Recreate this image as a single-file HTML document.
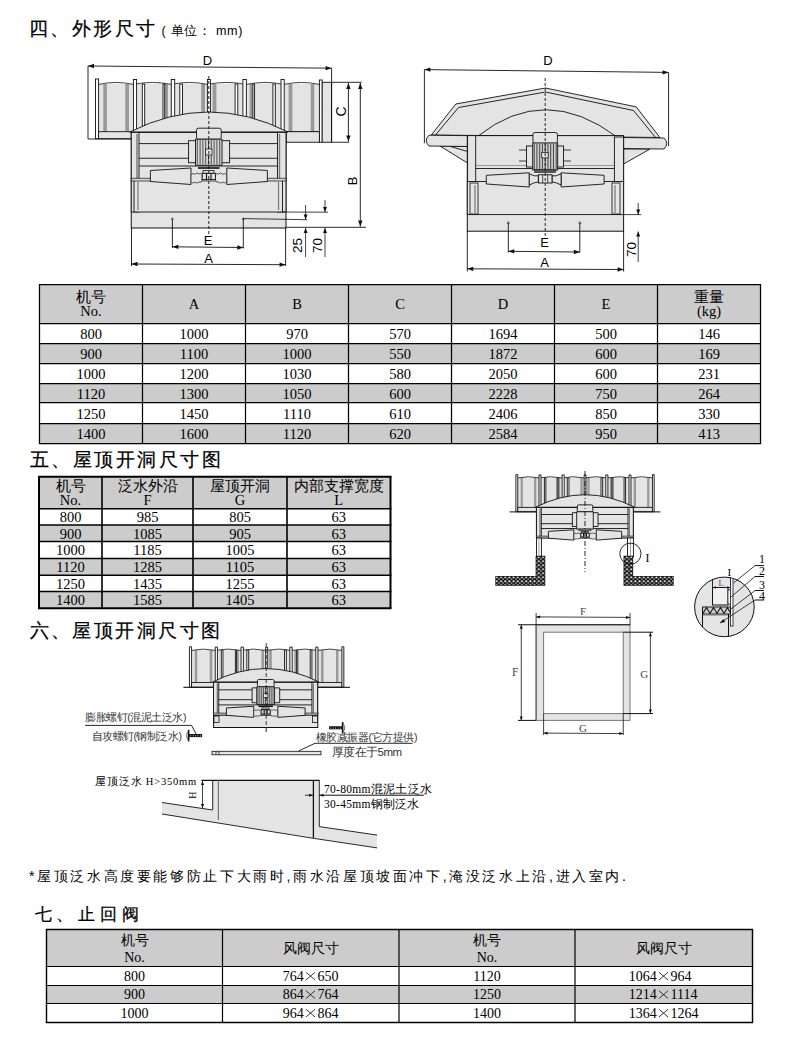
<!DOCTYPE html>
<html><head><meta charset="utf-8"><style>
html,body{margin:0;padding:0;background:#fff;width:800px;height:1043px;overflow:hidden}
svg{display:block}
.ns *{vector-effect:non-scaling-stroke}
</style></head><body>
<svg width="800" height="1043" viewBox="0 0 800 1043">
<text x="29" y="34.5" font-size="19" letter-spacing="2.45" stroke="#000" stroke-width="0.25" font-family="Liberation Sans, sans-serif">四、外形尺寸</text>
<text x="161.5" y="35" font-size="12.6" letter-spacing="0.7" font-family="Liberation Sans, sans-serif">( 单位： mm)</text>
<text x="30" y="466.3" font-size="19" letter-spacing="2.45" stroke="#000" stroke-width="0.25" font-family="Liberation Sans, sans-serif">五、屋顶开洞尺寸图</text>
<text x="29.5" y="637" font-size="19" letter-spacing="2.45" stroke="#000" stroke-width="0.25" font-family="Liberation Sans, sans-serif">六、屋顶开洞尺寸图</text>
<text x="34.5" y="920" font-size="17.2" letter-spacing="4.8" stroke="#000" stroke-width="0.25" font-family="Liberation Sans, sans-serif">七、止回阀</text>
<text x="29" y="880.5" font-size="14" letter-spacing="2.63" font-family="Liberation Sans, sans-serif">*屋顶泛水高度要能够防止下大雨时,雨水沿屋顶坡面冲下,淹没泛水上沿,进入室内.</text>
<rect x="39.5" y="284.5" width="721.0" height="39.0" fill="#cccccc"/>
<rect x="39.5" y="343.5" width="721.0" height="20.0" fill="#cccccc"/>
<rect x="39.5" y="383.5" width="721.0" height="19.0" fill="#cccccc"/>
<rect x="39.5" y="423.5" width="721.0" height="20.0" fill="#cccccc"/>
<line x1="38.875" y1="284.5" x2="761.125" y2="284.5" stroke="#000" stroke-width="1.25"/>
<line x1="38.875" y1="323.5" x2="761.125" y2="323.5" stroke="#000" stroke-width="1.25"/>
<line x1="38.875" y1="343.5" x2="761.125" y2="343.5" stroke="#000" stroke-width="1.25"/>
<line x1="38.875" y1="363.5" x2="761.125" y2="363.5" stroke="#000" stroke-width="1.25"/>
<line x1="38.875" y1="383.5" x2="761.125" y2="383.5" stroke="#000" stroke-width="1.25"/>
<line x1="38.875" y1="402.5" x2="761.125" y2="402.5" stroke="#000" stroke-width="1.25"/>
<line x1="38.875" y1="423.5" x2="761.125" y2="423.5" stroke="#000" stroke-width="1.25"/>
<line x1="38.875" y1="443.5" x2="761.125" y2="443.5" stroke="#000" stroke-width="1.25"/>
<line x1="39.5" y1="284.5" x2="39.5" y2="443.5" stroke="#000" stroke-width="1.25"/>
<line x1="142.5" y1="284.5" x2="142.5" y2="443.5" stroke="#000" stroke-width="1.25"/>
<line x1="245.5" y1="284.5" x2="245.5" y2="443.5" stroke="#000" stroke-width="1.25"/>
<line x1="348.5" y1="284.5" x2="348.5" y2="443.5" stroke="#000" stroke-width="1.25"/>
<line x1="451.5" y1="284.5" x2="451.5" y2="443.5" stroke="#000" stroke-width="1.25"/>
<line x1="554.5" y1="284.5" x2="554.5" y2="443.5" stroke="#000" stroke-width="1.25"/>
<line x1="657.5" y1="284.5" x2="657.5" y2="443.5" stroke="#000" stroke-width="1.25"/>
<line x1="760.5" y1="284.5" x2="760.5" y2="443.5" stroke="#000" stroke-width="1.25"/>
<text x="91.0" y="302.0" text-anchor="middle" font-size="14.5" font-family="Liberation Serif, serif">机号</text>
<text x="91.0" y="315.775" text-anchor="middle" font-size="14.5" font-family="Liberation Serif, serif">No.</text>
<text x="194.0" y="309.075" text-anchor="middle" font-size="14.5" font-family="Liberation Serif, serif">A</text>
<text x="297.0" y="309.075" text-anchor="middle" font-size="14.5" font-family="Liberation Serif, serif">B</text>
<text x="400.0" y="309.075" text-anchor="middle" font-size="14.5" font-family="Liberation Serif, serif">C</text>
<text x="503.0" y="309.075" text-anchor="middle" font-size="14.5" font-family="Liberation Serif, serif">D</text>
<text x="606.0" y="309.075" text-anchor="middle" font-size="14.5" font-family="Liberation Serif, serif">E</text>
<text x="709.0" y="302.0" text-anchor="middle" font-size="14.5" font-family="Liberation Serif, serif">重量</text>
<text x="709.0" y="315.775" text-anchor="middle" font-size="14.5" font-family="Liberation Serif, serif">(kg)</text>
<text x="91.0" y="339.43" text-anchor="middle" font-size="14.5" font-family="Liberation Serif, serif">800</text>
<text x="194.0" y="339.43" text-anchor="middle" font-size="14.5" font-family="Liberation Serif, serif">1000</text>
<text x="297.0" y="339.43" text-anchor="middle" font-size="14.5" font-family="Liberation Serif, serif">970</text>
<text x="400.0" y="339.43" text-anchor="middle" font-size="14.5" font-family="Liberation Serif, serif">570</text>
<text x="503.0" y="339.43" text-anchor="middle" font-size="14.5" font-family="Liberation Serif, serif">1694</text>
<text x="606.0" y="339.43" text-anchor="middle" font-size="14.5" font-family="Liberation Serif, serif">500</text>
<text x="709.0" y="339.43" text-anchor="middle" font-size="14.5" font-family="Liberation Serif, serif">146</text>
<text x="91.0" y="359.43" text-anchor="middle" font-size="14.5" font-family="Liberation Serif, serif">900</text>
<text x="194.0" y="359.43" text-anchor="middle" font-size="14.5" font-family="Liberation Serif, serif">1100</text>
<text x="297.0" y="359.43" text-anchor="middle" font-size="14.5" font-family="Liberation Serif, serif">1000</text>
<text x="400.0" y="359.43" text-anchor="middle" font-size="14.5" font-family="Liberation Serif, serif">550</text>
<text x="503.0" y="359.43" text-anchor="middle" font-size="14.5" font-family="Liberation Serif, serif">1872</text>
<text x="606.0" y="359.43" text-anchor="middle" font-size="14.5" font-family="Liberation Serif, serif">600</text>
<text x="709.0" y="359.43" text-anchor="middle" font-size="14.5" font-family="Liberation Serif, serif">169</text>
<text x="91.0" y="379.43" text-anchor="middle" font-size="14.5" font-family="Liberation Serif, serif">1000</text>
<text x="194.0" y="379.43" text-anchor="middle" font-size="14.5" font-family="Liberation Serif, serif">1200</text>
<text x="297.0" y="379.43" text-anchor="middle" font-size="14.5" font-family="Liberation Serif, serif">1030</text>
<text x="400.0" y="379.43" text-anchor="middle" font-size="14.5" font-family="Liberation Serif, serif">580</text>
<text x="503.0" y="379.43" text-anchor="middle" font-size="14.5" font-family="Liberation Serif, serif">2050</text>
<text x="606.0" y="379.43" text-anchor="middle" font-size="14.5" font-family="Liberation Serif, serif">600</text>
<text x="709.0" y="379.43" text-anchor="middle" font-size="14.5" font-family="Liberation Serif, serif">231</text>
<text x="91.0" y="398.93" text-anchor="middle" font-size="14.5" font-family="Liberation Serif, serif">1120</text>
<text x="194.0" y="398.93" text-anchor="middle" font-size="14.5" font-family="Liberation Serif, serif">1300</text>
<text x="297.0" y="398.93" text-anchor="middle" font-size="14.5" font-family="Liberation Serif, serif">1050</text>
<text x="400.0" y="398.93" text-anchor="middle" font-size="14.5" font-family="Liberation Serif, serif">600</text>
<text x="503.0" y="398.93" text-anchor="middle" font-size="14.5" font-family="Liberation Serif, serif">2228</text>
<text x="606.0" y="398.93" text-anchor="middle" font-size="14.5" font-family="Liberation Serif, serif">750</text>
<text x="709.0" y="398.93" text-anchor="middle" font-size="14.5" font-family="Liberation Serif, serif">264</text>
<text x="91.0" y="418.93" text-anchor="middle" font-size="14.5" font-family="Liberation Serif, serif">1250</text>
<text x="194.0" y="418.93" text-anchor="middle" font-size="14.5" font-family="Liberation Serif, serif">1450</text>
<text x="297.0" y="418.93" text-anchor="middle" font-size="14.5" font-family="Liberation Serif, serif">1110</text>
<text x="400.0" y="418.93" text-anchor="middle" font-size="14.5" font-family="Liberation Serif, serif">610</text>
<text x="503.0" y="418.93" text-anchor="middle" font-size="14.5" font-family="Liberation Serif, serif">2406</text>
<text x="606.0" y="418.93" text-anchor="middle" font-size="14.5" font-family="Liberation Serif, serif">850</text>
<text x="709.0" y="418.93" text-anchor="middle" font-size="14.5" font-family="Liberation Serif, serif">330</text>
<text x="91.0" y="439.43" text-anchor="middle" font-size="14.5" font-family="Liberation Serif, serif">1400</text>
<text x="194.0" y="439.43" text-anchor="middle" font-size="14.5" font-family="Liberation Serif, serif">1600</text>
<text x="297.0" y="439.43" text-anchor="middle" font-size="14.5" font-family="Liberation Serif, serif">1120</text>
<text x="400.0" y="439.43" text-anchor="middle" font-size="14.5" font-family="Liberation Serif, serif">620</text>
<text x="503.0" y="439.43" text-anchor="middle" font-size="14.5" font-family="Liberation Serif, serif">2584</text>
<text x="606.0" y="439.43" text-anchor="middle" font-size="14.5" font-family="Liberation Serif, serif">950</text>
<text x="709.0" y="439.43" text-anchor="middle" font-size="14.5" font-family="Liberation Serif, serif">413</text>
<rect x="39" y="476.7" width="351.5" height="32.10000000000002" fill="#cccccc"/>
<rect x="39" y="525" width="351.5" height="16.5" fill="#cccccc"/>
<rect x="39" y="558.5" width="351.5" height="16.799999999999955" fill="#cccccc"/>
<rect x="39" y="591.5" width="351.5" height="16.799999999999955" fill="#cccccc"/>
<line x1="38.0" y1="476.7" x2="391.5" y2="476.7" stroke="#000" stroke-width="2"/>
<line x1="38.0" y1="508.8" x2="391.5" y2="508.8" stroke="#000" stroke-width="1.6"/>
<line x1="38.0" y1="525" x2="391.5" y2="525" stroke="#000" stroke-width="1.6"/>
<line x1="38.0" y1="541.5" x2="391.5" y2="541.5" stroke="#000" stroke-width="1.6"/>
<line x1="38.0" y1="558.5" x2="391.5" y2="558.5" stroke="#000" stroke-width="1.6"/>
<line x1="38.0" y1="575.3" x2="391.5" y2="575.3" stroke="#000" stroke-width="1.6"/>
<line x1="38.0" y1="591.5" x2="391.5" y2="591.5" stroke="#000" stroke-width="1.6"/>
<line x1="38.0" y1="608.3" x2="391.5" y2="608.3" stroke="#000" stroke-width="2"/>
<line x1="39" y1="476.7" x2="39" y2="608.3" stroke="#000" stroke-width="2"/>
<line x1="102" y1="476.7" x2="102" y2="608.3" stroke="#000" stroke-width="1.6"/>
<line x1="193" y1="476.7" x2="193" y2="608.3" stroke="#000" stroke-width="1.6"/>
<line x1="287" y1="476.7" x2="287" y2="608.3" stroke="#000" stroke-width="1.6"/>
<line x1="390.5" y1="476.7" x2="390.5" y2="608.3" stroke="#000" stroke-width="2"/>
<text x="70.5" y="490.75" text-anchor="middle" font-size="14.5" font-family="Liberation Serif, serif">机号</text>
<text x="70.5" y="504.525" text-anchor="middle" font-size="14.5" font-family="Liberation Serif, serif">No.</text>
<text x="147.5" y="490.75" text-anchor="middle" font-size="14.5" font-family="Liberation Serif, serif">泛水外沿</text>
<text x="147.5" y="504.525" text-anchor="middle" font-size="14.5" font-family="Liberation Serif, serif">F</text>
<text x="240.0" y="490.75" text-anchor="middle" font-size="14.5" font-family="Liberation Serif, serif">屋顶开洞</text>
<text x="240.0" y="504.525" text-anchor="middle" font-size="14.5" font-family="Liberation Serif, serif">G</text>
<text x="338.75" y="490.75" text-anchor="middle" font-size="14.5" font-family="Liberation Serif, serif">内部支撑宽度</text>
<text x="338.75" y="504.525" text-anchor="middle" font-size="14.5" font-family="Liberation Serif, serif">L</text>
<text x="70.5" y="522.3299999999999" text-anchor="middle" font-size="14.5" font-family="Liberation Serif, serif">800</text>
<text x="147.5" y="522.3299999999999" text-anchor="middle" font-size="14.5" font-family="Liberation Serif, serif">985</text>
<text x="240.0" y="522.3299999999999" text-anchor="middle" font-size="14.5" font-family="Liberation Serif, serif">805</text>
<text x="338.75" y="522.3299999999999" text-anchor="middle" font-size="14.5" font-family="Liberation Serif, serif">63</text>
<text x="70.5" y="538.68" text-anchor="middle" font-size="14.5" font-family="Liberation Serif, serif">900</text>
<text x="147.5" y="538.68" text-anchor="middle" font-size="14.5" font-family="Liberation Serif, serif">1085</text>
<text x="240.0" y="538.68" text-anchor="middle" font-size="14.5" font-family="Liberation Serif, serif">905</text>
<text x="338.75" y="538.68" text-anchor="middle" font-size="14.5" font-family="Liberation Serif, serif">63</text>
<text x="70.5" y="555.43" text-anchor="middle" font-size="14.5" font-family="Liberation Serif, serif">1000</text>
<text x="147.5" y="555.43" text-anchor="middle" font-size="14.5" font-family="Liberation Serif, serif">1185</text>
<text x="240.0" y="555.43" text-anchor="middle" font-size="14.5" font-family="Liberation Serif, serif">1005</text>
<text x="338.75" y="555.43" text-anchor="middle" font-size="14.5" font-family="Liberation Serif, serif">63</text>
<text x="70.5" y="572.3299999999999" text-anchor="middle" font-size="14.5" font-family="Liberation Serif, serif">1120</text>
<text x="147.5" y="572.3299999999999" text-anchor="middle" font-size="14.5" font-family="Liberation Serif, serif">1285</text>
<text x="240.0" y="572.3299999999999" text-anchor="middle" font-size="14.5" font-family="Liberation Serif, serif">1105</text>
<text x="338.75" y="572.3299999999999" text-anchor="middle" font-size="14.5" font-family="Liberation Serif, serif">63</text>
<text x="70.5" y="588.8299999999999" text-anchor="middle" font-size="14.5" font-family="Liberation Serif, serif">1250</text>
<text x="147.5" y="588.8299999999999" text-anchor="middle" font-size="14.5" font-family="Liberation Serif, serif">1435</text>
<text x="240.0" y="588.8299999999999" text-anchor="middle" font-size="14.5" font-family="Liberation Serif, serif">1255</text>
<text x="338.75" y="588.8299999999999" text-anchor="middle" font-size="14.5" font-family="Liberation Serif, serif">63</text>
<text x="70.5" y="605.3299999999999" text-anchor="middle" font-size="14.5" font-family="Liberation Serif, serif">1400</text>
<text x="147.5" y="605.3299999999999" text-anchor="middle" font-size="14.5" font-family="Liberation Serif, serif">1585</text>
<text x="240.0" y="605.3299999999999" text-anchor="middle" font-size="14.5" font-family="Liberation Serif, serif">1405</text>
<text x="338.75" y="605.3299999999999" text-anchor="middle" font-size="14.5" font-family="Liberation Serif, serif">63</text>
<rect x="46.5" y="929.5" width="706.0" height="37.0" fill="#cccccc"/>
<rect x="46.5" y="985.5" width="706.0" height="18.0" fill="#cccccc"/>
<line x1="45.8" y1="929.5" x2="753.2" y2="929.5" stroke="#000" stroke-width="1.4"/>
<line x1="45.8" y1="966.5" x2="753.2" y2="966.5" stroke="#000" stroke-width="1.2"/>
<line x1="45.8" y1="985.5" x2="753.2" y2="985.5" stroke="#000" stroke-width="1.2"/>
<line x1="45.8" y1="1003.5" x2="753.2" y2="1003.5" stroke="#000" stroke-width="1.2"/>
<line x1="45.8" y1="1022.5" x2="753.2" y2="1022.5" stroke="#000" stroke-width="1.4"/>
<line x1="46.5" y1="929.5" x2="46.5" y2="1022.5" stroke="#000" stroke-width="1.4"/>
<line x1="222.5" y1="929.5" x2="222.5" y2="1022.5" stroke="#000" stroke-width="1.2"/>
<line x1="399" y1="929.5" x2="399" y2="1022.5" stroke="#000" stroke-width="1.2"/>
<line x1="575" y1="929.5" x2="575" y2="1022.5" stroke="#000" stroke-width="1.2"/>
<line x1="752.5" y1="929.5" x2="752.5" y2="1022.5" stroke="#000" stroke-width="1.4"/>
<text x="134.5" y="945.0" text-anchor="middle" font-size="14" font-family="Liberation Serif, serif">机号</text>
<text x="134.5" y="961.8" text-anchor="middle" font-size="14" font-family="Liberation Serif, serif">No.</text>
<text x="310.75" y="952.9" text-anchor="middle" font-size="14" font-family="Liberation Serif, serif">风阀尺寸</text>
<text x="487.0" y="945.0" text-anchor="middle" font-size="14" font-family="Liberation Serif, serif">机号</text>
<text x="487.0" y="961.8" text-anchor="middle" font-size="14" font-family="Liberation Serif, serif">No.</text>
<text x="663.75" y="952.9" text-anchor="middle" font-size="14" font-family="Liberation Serif, serif">风阀尺寸</text>
<text x="134.5" y="980.76" text-anchor="middle" font-size="14" font-family="Liberation Serif, serif">800</text>
<text x="303.75" y="980.76" text-anchor="end" font-size="14" font-family="Liberation Serif, serif">764</text>
<text x="317.45" y="980.76" text-anchor="start" font-size="14" font-family="Liberation Serif, serif">650</text>
<path d="M305.9,972.24 L315.1,980.04 M305.9,980.04 L315.1,972.24" stroke="#222" stroke-width="0.9" fill="none"/>
<text x="487.0" y="980.76" text-anchor="middle" font-size="14" font-family="Liberation Serif, serif">1120</text>
<text x="656.75" y="980.76" text-anchor="end" font-size="14" font-family="Liberation Serif, serif">1064</text>
<text x="670.45" y="980.76" text-anchor="start" font-size="14" font-family="Liberation Serif, serif">964</text>
<path d="M658.9,972.24 L668.1,980.04 M658.9,980.04 L668.1,972.24" stroke="#222" stroke-width="0.9" fill="none"/>
<text x="134.5" y="999.26" text-anchor="middle" font-size="14" font-family="Liberation Serif, serif">900</text>
<text x="303.75" y="999.26" text-anchor="end" font-size="14" font-family="Liberation Serif, serif">864</text>
<text x="317.45" y="999.26" text-anchor="start" font-size="14" font-family="Liberation Serif, serif">764</text>
<path d="M305.9,990.74 L315.1,998.54 M305.9,998.54 L315.1,990.74" stroke="#222" stroke-width="0.9" fill="none"/>
<text x="487.0" y="999.26" text-anchor="middle" font-size="14" font-family="Liberation Serif, serif">1250</text>
<text x="656.75" y="999.26" text-anchor="end" font-size="14" font-family="Liberation Serif, serif">1214</text>
<text x="670.45" y="999.26" text-anchor="start" font-size="14" font-family="Liberation Serif, serif">1114</text>
<path d="M658.9,990.74 L668.1,998.54 M658.9,998.54 L668.1,990.74" stroke="#222" stroke-width="0.9" fill="none"/>
<text x="134.5" y="1017.76" text-anchor="middle" font-size="14" font-family="Liberation Serif, serif">1000</text>
<text x="303.75" y="1017.76" text-anchor="end" font-size="14" font-family="Liberation Serif, serif">964</text>
<text x="317.45" y="1017.76" text-anchor="start" font-size="14" font-family="Liberation Serif, serif">864</text>
<path d="M305.9,1009.24 L315.1,1017.04 M305.9,1017.04 L315.1,1009.24" stroke="#222" stroke-width="0.9" fill="none"/>
<text x="487.0" y="1017.76" text-anchor="middle" font-size="14" font-family="Liberation Serif, serif">1400</text>
<text x="656.75" y="1017.76" text-anchor="end" font-size="14" font-family="Liberation Serif, serif">1364</text>
<text x="670.45" y="1017.76" text-anchor="start" font-size="14" font-family="Liberation Serif, serif">1264</text>
<path d="M658.9,1009.24 L668.1,1017.04 M658.9,1017.04 L668.1,1009.24" stroke="#222" stroke-width="0.9" fill="none"/>
<defs><pattern id="speck" width="4.2" height="4" patternUnits="userSpaceOnUse"><rect width="4.2" height="4" fill="#1c1c1c"/><circle cx="1.2" cy="1.2" r="1.0" fill="#f4f4f4"/><circle cx="3.3" cy="3.1" r="0.8" fill="#bbb"/></pattern></defs>
<rect x="98.6" y="84" width="223.4" height="47.69999999999999" fill="#e4e4e4"/>
<rect x="103.3" y="84" width="3.6000000000000085" height="47.7" fill="#9a9a9a"/>
<rect x="310.70000000000005" y="84" width="3.6000000000000085" height="47.7" fill="#9a9a9a"/>
<rect x="125.2" y="84" width="3.799999999999997" height="47.7" fill="#9a9a9a"/>
<rect x="288.6" y="84" width="3.799999999999997" height="47.7" fill="#9a9a9a"/>
<rect x="164.7" y="84" width="3.3000000000000114" height="47.7" fill="#9a9a9a"/>
<rect x="249.60000000000002" y="84" width="3.3000000000000114" height="47.7" fill="#9a9a9a"/>
<rect x="201.2" y="84" width="3.8000000000000114" height="47.7" fill="#9a9a9a"/>
<rect x="212.60000000000002" y="84" width="3.8000000000000114" height="47.7" fill="#9a9a9a"/>
<path d="M98.6,84.4 Q116.0,80.5 133.4,84.4 Q152.325,80.5 171.25,84.4 Q189.375,80.5 207.5,84.4 Q226.85,80.5 246.2,84.4 Q265.0,80.5 283.8,84.4 Q301.6,80.5 319.4,84.4 " fill="none" stroke="#111" stroke-width="0.8"/>
<rect x="133.4" y="79.5" width="3.1999999999999886" height="52.19999999999999" fill="#fff" stroke="#111" stroke-width="0.9"/>
<rect x="281.0" y="79.5" width="3.2000000000000455" height="52.19999999999999" fill="#fff" stroke="#111" stroke-width="0.9"/>
<rect x="142.3" y="84" width="2.3999999999999773" height="47.69999999999999" fill="#fff" stroke="#111" stroke-width="0.9"/>
<rect x="272.90000000000003" y="84" width="2.3999999999999773" height="47.69999999999999" fill="#fff" stroke="#111" stroke-width="0.9"/>
<rect x="163" y="84" width="1.6999999999999886" height="47.69999999999999" fill="#fff" stroke="#111" stroke-width="0.9"/>
<rect x="252.90000000000003" y="84" width="1.6999999999999886" height="47.69999999999999" fill="#fff" stroke="#111" stroke-width="0.9"/>
<rect x="171.25" y="79.5" width="3.4499999999999886" height="52.19999999999999" fill="#fff" stroke="#111" stroke-width="0.9"/>
<rect x="242.90000000000003" y="79.5" width="3.4499999999999886" height="52.19999999999999" fill="#fff" stroke="#111" stroke-width="0.9"/>
<rect x="179.8" y="84" width="2.6999999999999886" height="47.69999999999999" fill="#fff" stroke="#111" stroke-width="0.9"/>
<rect x="235.10000000000002" y="84" width="2.6999999999999886" height="47.69999999999999" fill="#fff" stroke="#111" stroke-width="0.9"/>
<rect x="207.4" y="79.5" width="3" height="52" fill="#fff" stroke="#111" stroke-width="0.9"/>
<rect x="95.5" y="79" width="3.0999999999999943" height="59.75" fill="#fff" stroke="#111" stroke-width="0.9" />
<rect x="98.6" y="131.7" width="220.79999999999998" height="7.050000000000011" fill="#e4e4e4" stroke="#111" stroke-width="0.9" />
<rect x="319.4" y="80" width="2.8000000000000114" height="62.25" fill="#fff" stroke="#111" stroke-width="0.9" />
<rect x="322.2" y="82.3" width="9.400000000000034" height="59.95" fill="#e4e4e4" stroke="#111" stroke-width="0.9" />
<rect x="286" y="131.7" width="33.39999999999998" height="10.550000000000011" fill="#e4e4e4" stroke="#111" stroke-width="0.9" />
<path d="M129.8,132 Q208.8,92 288,132 Z" fill="#e4e4e4" stroke="#111" stroke-width="0.9"/>
<rect x="131.25" y="132.4" width="154.75" height="95.6" fill="#e4e4e4" stroke="#111" stroke-width="1" />
<rect x="131.25" y="132.4" width="7.75" height="79.6" fill="#e4e4e4" stroke="#111" stroke-width="0.9" />
<rect x="277.5" y="132.4" width="8.5" height="79.6" fill="#e4e4e4" stroke="#111" stroke-width="0.9" />
<line x1="137" y1="134" x2="137" y2="210" stroke="#777" stroke-width="1.4" />
<line x1="279.5" y1="134" x2="279.5" y2="210" stroke="#777" stroke-width="1.4" />
<line x1="139" y1="143.6" x2="277.5" y2="143.6" stroke="#111" stroke-width="0.9" />
<line x1="139" y1="158.25" x2="277.5" y2="158.25" stroke="#111" stroke-width="0.9" />
<line x1="139" y1="166" x2="277.5" y2="166" stroke="#111" stroke-width="0.9" />
<rect x="134" y="180" width="148.5" height="32" fill="#e4e4e4" stroke="#111" stroke-width="0.9" />
<line x1="138" y1="182" x2="138" y2="210" stroke="#777" stroke-width="1.2" />
<line x1="278.5" y1="182" x2="278.5" y2="210" stroke="#777" stroke-width="1.2" />
<rect x="131.25" y="178.2" width="154.75" height="2.8000000000000114" fill="#d8d8d8" stroke="#111" stroke-width="0.7" />
<rect x="188.6" y="140.7" width="41.0" height="22.05000000000001" fill="#e4e4e4" stroke="#111" stroke-width="0.9" />
<rect x="196.5" y="128.2" width="24.75" height="11" rx="2" fill="#e4e4e4" stroke="#111" stroke-width="0.9"/>
<rect x="195.5" y="139.2" width="26.5" height="26.100000000000023" fill="#d4d4d4" stroke="#111" stroke-width="0.9" />
<line x1="197.3" y1="140" x2="197.3" y2="164.5" stroke="#333" stroke-width="0.8" />
<line x1="200.10000000000002" y1="140" x2="200.10000000000002" y2="164.5" stroke="#333" stroke-width="0.8" />
<line x1="202.9" y1="140" x2="202.9" y2="164.5" stroke="#333" stroke-width="0.8" />
<line x1="205.70000000000002" y1="140" x2="205.70000000000002" y2="164.5" stroke="#333" stroke-width="0.8" />
<line x1="208.5" y1="140" x2="208.5" y2="164.5" stroke="#333" stroke-width="0.8" />
<line x1="211.3" y1="140" x2="211.3" y2="164.5" stroke="#333" stroke-width="0.8" />
<line x1="214.10000000000002" y1="140" x2="214.10000000000002" y2="164.5" stroke="#333" stroke-width="0.8" />
<line x1="216.9" y1="140" x2="216.9" y2="164.5" stroke="#333" stroke-width="0.8" />
<line x1="219.70000000000002" y1="140" x2="219.70000000000002" y2="164.5" stroke="#333" stroke-width="0.8" />
<rect x="205.5" y="149" width="6.5" height="6" fill="#e4e4e4" stroke="#111" stroke-width="0.7" />
<line x1="198" y1="168" x2="219.5" y2="168" stroke="#111" stroke-width="1.6" />
<polygon points="150.4,170.5 191,168 191,184.5 150.4,181.5" fill="#e4e4e4" stroke="#111" stroke-width="0.9"/>
<polygon points="267.4,170.5 226.8,168 226.8,184.5 267.4,181.5" fill="#e4e4e4" stroke="#111" stroke-width="0.9"/>
<path d="M191.0,175 Q193.0,172.3 195.0,174.3 Q197.0,171.8 199.0,174 Q201.0,172.3 202.2,175 L202.2,180 Q201.0,183.5 199.0,182 Q197.0,184.2 195.0,182.2 Q193.0,184 191.0,182 Z" fill="#e4e4e4" stroke="#333" stroke-width="0.8"/>
<path d="M226.60000000000002,175 Q224.60000000000002,172.3 222.60000000000002,174.3 Q220.60000000000002,171.8 218.60000000000002,174 Q216.60000000000002,172.3 215.40000000000003,175 L215.40000000000003,180 Q216.60000000000002,183.5 218.60000000000002,182 Q220.60000000000002,184.2 222.60000000000002,182.2 Q224.60000000000002,184 226.60000000000002,182 Z" fill="#e4e4e4" stroke="#333" stroke-width="0.8"/>
<rect x="203" y="170.6" width="11" height="2.700000000000017" fill="#e4e4e4" stroke="#111" stroke-width="0.8" />
<rect x="202.2" y="173.3" width="13.200000000000017" height="6.299999999999983" fill="#e4e4e4" stroke="#111" stroke-width="0.9" />
<line x1="206.5" y1="173.3" x2="206.5" y2="179.6" stroke="#111" stroke-width="1.1" />
<line x1="211" y1="173.3" x2="211" y2="179.6" stroke="#111" stroke-width="1.1" />
<circle cx="172.4" cy="219" r="0.9" fill="none" stroke="#111" stroke-width="0.6"/>
<circle cx="243.3" cy="219" r="0.9" fill="none" stroke="#111" stroke-width="0.6"/>
<line x1="208.8" y1="76" x2="208.8" y2="237" stroke="#111" stroke-width="0.9" stroke-dasharray="3,2"/>
<line x1="88" y1="66" x2="331.6" y2="68.2" stroke="#111" stroke-width="0.9" />
<polygon points="88,66 94.01962315420909,63.854274695747414 93.97988750042663,68.25409526911385" fill="#111"/>
<polygon points="331.6,68.2 325.5803768457909,70.3457253042526 325.6201124995734,65.94590473088616" fill="#111"/>
<line x1="88" y1="66" x2="88" y2="139" stroke="#111" stroke-width="0.9" />
<line x1="88" y1="139" x2="131.25" y2="139" stroke="#111" stroke-width="0.9" />
<line x1="331.6" y1="68.2" x2="331.6" y2="142.25" stroke="#111" stroke-width="0.9" />
<text x="207.5" y="64.5" font-size="13" text-anchor="middle" font-family="Liberation Sans, sans-serif" >D</text>
<line x1="331.6" y1="82.3" x2="361.6" y2="82.3" stroke="#111" stroke-width="0.9" />
<line x1="331.6" y1="142.25" x2="349" y2="142.25" stroke="#111" stroke-width="0.9" />
<line x1="348.4" y1="83" x2="348.4" y2="141.5" stroke="#111" stroke-width="0.9" />
<polygon points="348.4,83 350.59999999999997,89.0 346.2,89.0" fill="#111"/>
<polygon points="348.4,141.5 346.2,135.5 350.59999999999997,135.5" fill="#111"/>
<text x="346" y="111.4" font-size="14" text-anchor="middle" font-family="Liberation Sans, sans-serif" transform="rotate(-90 346 111.4)" >C</text>
<line x1="360.3" y1="83" x2="360.3" y2="226.5" stroke="#111" stroke-width="0.9" />
<polygon points="360.3,83 362.5,89.0 358.1,89.0" fill="#111"/>
<polygon points="360.3,226.5 358.1,220.5 362.5,220.5" fill="#111"/>
<line x1="286" y1="227.3" x2="366" y2="227.3" stroke="#111" stroke-width="0.9" />
<text x="357" y="181" font-size="13" text-anchor="middle" font-family="Liberation Sans, sans-serif" transform="rotate(-90 357 181)" >B</text>
<line x1="172.4" y1="219" x2="172.4" y2="248" stroke="#111" stroke-width="0.9" />
<line x1="243.3" y1="218.6" x2="243.3" y2="248.5" stroke="#111" stroke-width="0.9" />
<line x1="243.3" y1="218.6" x2="307" y2="219.7" stroke="#111" stroke-width="0.8" />
<line x1="172.4" y1="246.8" x2="243.3" y2="247.5" stroke="#111" stroke-width="0.9" />
<polygon points="172.4,246.8 178.4214272642629,244.65934269412608 178.3779879145324,249.05912825968434" fill="#111"/>
<polygon points="243.3,247.5 237.27857273573713,249.64065730587393 237.3220120854676,245.24087174031567" fill="#111"/>
<text x="208" y="244.8" font-size="13" text-anchor="middle" font-family="Liberation Sans, sans-serif" >E</text>
<line x1="131.5" y1="228" x2="131.5" y2="266" stroke="#111" stroke-width="0.9" />
<line x1="285.6" y1="228" x2="285.6" y2="266" stroke="#111" stroke-width="0.9" />
<line x1="131.5" y1="264" x2="285.6" y2="264.7" stroke="#111" stroke-width="0.9" />
<polygon points="131.5,264 137.5099315055107,261.82727744544553 137.48994469030245,266.227232050577" fill="#111"/>
<polygon points="285.6,264.7 279.59006849448934,266.87272255455446 279.61005530969754,262.472767949423" fill="#111"/>
<text x="208.5" y="263" font-size="13" text-anchor="middle" font-family="Liberation Sans, sans-serif" >A</text>
<line x1="282.5" y1="212" x2="328" y2="212.2" stroke="#111" stroke-width="0.8" />
<line x1="305.6" y1="205" x2="305.6" y2="219.5" stroke="#111" stroke-width="0.8" />
<polygon points="305.6,219.5 303.6,214.5 307.6,214.5" fill="#111"/>
<line x1="305.6" y1="228" x2="305.6" y2="257" stroke="#111" stroke-width="0.8" />
<polygon points="305.6,228 307.6,233.0 303.6,233.0" fill="#111"/>
<text x="302" y="245.5" font-size="13.5" text-anchor="middle" font-family="Liberation Sans, sans-serif" transform="rotate(-90 302 245.5)" >25</text>
<line x1="325" y1="200" x2="325" y2="212" stroke="#111" stroke-width="0.8" />
<polygon points="325,212 323.0,207.0 327.0,207.0" fill="#111"/>
<line x1="325" y1="228" x2="325" y2="257" stroke="#111" stroke-width="0.8" />
<polygon points="325,228 327.0,233.0 323.0,233.0" fill="#111"/>
<text x="321.5" y="245.5" font-size="13.5" text-anchor="middle" font-family="Liberation Sans, sans-serif" transform="rotate(-90 321.5 245.5)" >70</text>
<path d="M431.3,135 L455.8,104 L545.5,88 L636.25,106.9 L659.9,137.5 Z" fill="#e4e4e4" stroke="#111" stroke-width="0.9"/>
<path d="M435.5,135 L458.5,107.5 L545.5,92 L633.5,110.5 L655.5,137.5" fill="none" stroke="#111" stroke-width="0.9"/>
<path d="M478,136 Q545.2,83 617,137" fill="none" stroke="#111" stroke-width="0.9"/>
<polygon points="440,146 467.6,163 467.6,146.5" fill="#e4e4e4" stroke="#111" stroke-width="0.9"/>
<line x1="450" y1="146.3" x2="467.6" y2="151.5" stroke="#111" stroke-width="0.9" />
<polygon points="650,149 623.6,164 623.6,149" fill="#e4e4e4" stroke="#111" stroke-width="0.9"/>
<path d="M429,135.2 L664,138 Q669.5,143.5 664,149 L429,146 Q423.5,140.6 429,135.2 Z" fill="#e4e4e4" stroke="#111" stroke-width="0.9"/>
<rect x="467.3" y="135.6" width="156.3" height="95.6" fill="#e4e4e4" stroke="#111" stroke-width="1" />
<rect x="467.6" y="135.6" width="8.099999999999966" height="47.400000000000006" fill="#e4e4e4" stroke="#111" stroke-width="0.9" />
<rect x="614.4" y="137" width="9.200000000000045" height="46" fill="#e4e4e4" stroke="#111" stroke-width="0.9" />
<line x1="475.7" y1="168.5" x2="614.4" y2="168.5" stroke="#111" stroke-width="0.9" />
<line x1="475.7" y1="165.5" x2="614.4" y2="165.5" stroke="#666" stroke-width="0.6" />
<rect x="526.5" y="146" width="37.0" height="21" fill="#e4e4e4" stroke="#111" stroke-width="0.9" />
<rect x="532.95" y="132.5" width="24.5" height="10.800000000000011" rx="2" fill="#e4e4e4" stroke="#111" stroke-width="0.9"/>
<rect x="532.7" y="143" width="25.0" height="27" fill="#cfcfcf" stroke="#111" stroke-width="0.9" />
<line x1="534.2" y1="144" x2="534.2" y2="169" stroke="#333" stroke-width="0.9" />
<line x1="536.95" y1="144" x2="536.95" y2="169" stroke="#333" stroke-width="0.9" />
<line x1="539.7" y1="144" x2="539.7" y2="169" stroke="#333" stroke-width="0.9" />
<line x1="542.45" y1="144" x2="542.45" y2="169" stroke="#333" stroke-width="0.9" />
<line x1="545.2" y1="144" x2="545.2" y2="169" stroke="#333" stroke-width="0.9" />
<line x1="547.95" y1="144" x2="547.95" y2="169" stroke="#333" stroke-width="0.9" />
<line x1="550.7" y1="144" x2="550.7" y2="169" stroke="#333" stroke-width="0.9" />
<line x1="553.45" y1="144" x2="553.45" y2="169" stroke="#333" stroke-width="0.9" />
<line x1="556.2" y1="144" x2="556.2" y2="169" stroke="#333" stroke-width="0.9" />
<rect x="541.7" y="152.45" width="6.5" height="5.400000000000006" fill="#e4e4e4" stroke="#111" stroke-width="0.7" />
<rect x="534.7" y="169.5" width="21.0" height="3.0" fill="#555" stroke="#111" stroke-width="0.5" />
<line x1="519" y1="150" x2="526.5" y2="150" stroke="#111" stroke-width="0.8" />
<line x1="563.5" y1="150" x2="571" y2="150" stroke="#111" stroke-width="0.8" />
<line x1="519" y1="161" x2="526.5" y2="161" stroke="#111" stroke-width="0.8" />
<line x1="563.5" y1="161" x2="571" y2="161" stroke="#111" stroke-width="0.8" />
<rect x="467.3" y="181.5" width="156.3" height="33.099999999999994" fill="#e4e4e4" stroke="#111" stroke-width="0.9" />
<rect x="470" y="183" width="8" height="31" fill="#e4e4e4" stroke="#111" stroke-width="0.8" />
<rect x="612" y="183" width="8" height="31" fill="#e4e4e4" stroke="#111" stroke-width="0.8" />
<line x1="475" y1="185" x2="475" y2="213" stroke="#777" stroke-width="1.2" />
<line x1="615" y1="185" x2="615" y2="213" stroke="#777" stroke-width="1.2" />
<polygon points="486.3,175.3 529.3,172.8 529.3,187 486.3,184" fill="#e4e4e4" stroke="#111" stroke-width="0.9"/>
<polygon points="604.1000000000001,175.3 561.1000000000001,172.8 561.1000000000001,187 604.1000000000001,184" fill="#e4e4e4" stroke="#111" stroke-width="0.9"/>
<path d="M529.3,173.8 q5.460000000000082,3 9.100000000000136,2 v6.199999999999989 q-3.6400000000000547,0 -9.100000000000136,3 z" fill="#e4e4e4" stroke="#111" stroke-width="0.9"/>
<path d="M561.1000000000001,173.8 q-5.460000000000082,3 -9.100000000000136,2 v6.199999999999989 q3.6400000000000547,0 9.100000000000136,3 z" fill="#e4e4e4" stroke="#111" stroke-width="0.9"/>
<rect x="538.4000000000001" y="174.8" width="13.599999999999909" height="8.199999999999989" fill="#e4e4e4" stroke="#111" stroke-width="0.9" />
<line x1="542.7" y1="174.8" x2="542.7" y2="183" stroke="#111" stroke-width="0.7" />
<line x1="547.7" y1="174.8" x2="547.7" y2="183" stroke="#111" stroke-width="0.7" />
<circle cx="508.3" cy="222.8" r="1" fill="none" stroke="#111" stroke-width="0.6"/>
<circle cx="579.8" cy="222.8" r="1" fill="none" stroke="#111" stroke-width="0.6"/>
<line x1="545.2" y1="78" x2="545.2" y2="236" stroke="#111" stroke-width="0.9" stroke-dasharray="3,2"/>
<line x1="424.4" y1="69.6" x2="668.6" y2="72.4" stroke="#111" stroke-width="0.9" />
<polygon points="424.4,69.6 430.4248291978442,67.46893614905524 430.3743820634125,71.8686469448494" fill="#111"/>
<polygon points="668.6,72.4 662.5751708021558,74.53106385094476 662.6256179365876,70.1313530551506" fill="#111"/>
<line x1="424.4" y1="69.6" x2="424.4" y2="143.3" stroke="#111" stroke-width="0.9" />
<line x1="668.6" y1="72.4" x2="668.6" y2="146.25" stroke="#111" stroke-width="0.9" />
<text x="548" y="65" font-size="13" text-anchor="middle" font-family="Liberation Sans, sans-serif" >D</text>
<line x1="508.3" y1="223" x2="508.3" y2="252.5" stroke="#111" stroke-width="0.9" />
<line x1="579.8" y1="223" x2="579.8" y2="252.5" stroke="#111" stroke-width="0.9" />
<line x1="508.3" y1="251.3" x2="579.8" y2="252" stroke="#111" stroke-width="0.9" />
<polygon points="508.3,251.3 514.3212499054468,249.15884386927138 514.2781750466445,253.5586330183715" fill="#111"/>
<polygon points="579.8,252 573.7787500945532,254.14115613072863 573.8218249533555,249.74136698162852" fill="#111"/>
<text x="544.5" y="246.5" font-size="13" text-anchor="middle" font-family="Liberation Sans, sans-serif" >E</text>
<line x1="467.3" y1="231" x2="467.3" y2="271.5" stroke="#111" stroke-width="0.9" />
<line x1="623.6" y1="231" x2="623.6" y2="271.5" stroke="#111" stroke-width="0.9" />
<line x1="467.3" y1="268.8" x2="623.6" y2="269.5" stroke="#111" stroke-width="0.9" />
<polygon points="467.3,268.8 473.30979257650023,266.62689319465363 473.2900870799435,271.026849068683" fill="#111"/>
<polygon points="623.6,269.5 617.5902074234998,271.6731068053464 617.6099129200566,267.273150931317" fill="#111"/>
<text x="544.5" y="266.5" font-size="13" text-anchor="middle" font-family="Liberation Sans, sans-serif" >A</text>
<line x1="623.6" y1="214.6" x2="641" y2="214.6" stroke="#111" stroke-width="0.8" />
<line x1="638.2" y1="203" x2="638.2" y2="214.6" stroke="#111" stroke-width="0.8" />
<polygon points="638.2,214.6 636.2,209.6 640.2,209.6" fill="#111"/>
<line x1="638.2" y1="231.5" x2="638.2" y2="262" stroke="#111" stroke-width="0.8" />
<polygon points="638.2,231.5 640.2,236.5 636.2,236.5" fill="#111"/>
<text x="636" y="249.5" font-size="13.5" text-anchor="middle" font-family="Liberation Sans, sans-serif" transform="rotate(-90 636 249.5)" >70</text>
<g class="ns" transform="translate(457.632 425.46200000000005) scale(0.61 0.622)">
<rect x="98.6" y="84" width="223.4" height="47.69999999999999" fill="#e4e4e4"/>
<rect x="103.3" y="84" width="3.6000000000000085" height="47.7" fill="#9a9a9a"/>
<rect x="310.70000000000005" y="84" width="3.6000000000000085" height="47.7" fill="#9a9a9a"/>
<rect x="125.2" y="84" width="3.799999999999997" height="47.7" fill="#9a9a9a"/>
<rect x="288.6" y="84" width="3.799999999999997" height="47.7" fill="#9a9a9a"/>
<rect x="164.7" y="84" width="3.3000000000000114" height="47.7" fill="#9a9a9a"/>
<rect x="249.60000000000002" y="84" width="3.3000000000000114" height="47.7" fill="#9a9a9a"/>
<rect x="201.2" y="84" width="3.8000000000000114" height="47.7" fill="#9a9a9a"/>
<rect x="212.60000000000002" y="84" width="3.8000000000000114" height="47.7" fill="#9a9a9a"/>
<path d="M98.6,84.4 Q116.0,80.5 133.4,84.4 Q152.325,80.5 171.25,84.4 Q189.375,80.5 207.5,84.4 Q226.85,80.5 246.2,84.4 Q265.0,80.5 283.8,84.4 Q301.6,80.5 319.4,84.4 " fill="none" stroke="#111" stroke-width="0.8"/>
<rect x="133.4" y="79.5" width="3.1999999999999886" height="52.19999999999999" fill="#fff" stroke="#111" stroke-width="0.9"/>
<rect x="281.0" y="79.5" width="3.2000000000000455" height="52.19999999999999" fill="#fff" stroke="#111" stroke-width="0.9"/>
<rect x="142.3" y="84" width="2.3999999999999773" height="47.69999999999999" fill="#fff" stroke="#111" stroke-width="0.9"/>
<rect x="272.90000000000003" y="84" width="2.3999999999999773" height="47.69999999999999" fill="#fff" stroke="#111" stroke-width="0.9"/>
<rect x="163" y="84" width="1.6999999999999886" height="47.69999999999999" fill="#fff" stroke="#111" stroke-width="0.9"/>
<rect x="252.90000000000003" y="84" width="1.6999999999999886" height="47.69999999999999" fill="#fff" stroke="#111" stroke-width="0.9"/>
<rect x="171.25" y="79.5" width="3.4499999999999886" height="52.19999999999999" fill="#fff" stroke="#111" stroke-width="0.9"/>
<rect x="242.90000000000003" y="79.5" width="3.4499999999999886" height="52.19999999999999" fill="#fff" stroke="#111" stroke-width="0.9"/>
<rect x="179.8" y="84" width="2.6999999999999886" height="47.69999999999999" fill="#fff" stroke="#111" stroke-width="0.9"/>
<rect x="235.10000000000002" y="84" width="2.6999999999999886" height="47.69999999999999" fill="#fff" stroke="#111" stroke-width="0.9"/>
<rect x="207.4" y="79.5" width="3" height="52" fill="#fff" stroke="#111" stroke-width="0.9"/>
<rect x="95.5" y="79" width="3.0999999999999943" height="59.75" fill="#fff" stroke="#111" stroke-width="0.9" />
<rect x="98.6" y="131.7" width="220.79999999999998" height="7.050000000000011" fill="#e4e4e4" stroke="#111" stroke-width="0.9" />
<rect x="319.4" y="79" width="2.8000000000000114" height="59.75" fill="#fff" stroke="#111" stroke-width="0.9" />
</g>
<line x1="509.6" y1="511.9" x2="660.4" y2="511.9" stroke="#111" stroke-width="1" />
<g class="ns" transform="translate(454.2912 424.6176) scale(0.626 0.626)">
<path d="M129.8,132 Q208.8,92 288,132 Z" fill="#e4e4e4" stroke="#111" stroke-width="0.9"/>
<rect x="131.25" y="132.4" width="154.75" height="48.599999999999994" fill="#e4e4e4" stroke="#111" stroke-width="1" />
<rect x="131.25" y="132.4" width="7.75" height="48.599999999999994" fill="#e4e4e4" stroke="#111" stroke-width="0.9" />
<rect x="277.5" y="132.4" width="8.5" height="48.599999999999994" fill="#e4e4e4" stroke="#111" stroke-width="0.9" />
<line x1="137" y1="134" x2="137" y2="179" stroke="#777" stroke-width="1.4" />
<line x1="279.5" y1="134" x2="279.5" y2="179" stroke="#777" stroke-width="1.4" />
<line x1="139" y1="143.6" x2="277.5" y2="143.6" stroke="#111" stroke-width="0.9" />
<line x1="139" y1="158.25" x2="277.5" y2="158.25" stroke="#111" stroke-width="0.9" />
<line x1="139" y1="166" x2="277.5" y2="166" stroke="#111" stroke-width="0.9" />
<rect x="131.25" y="178.2" width="154.75" height="2.8000000000000114" fill="#d8d8d8" stroke="#111" stroke-width="0.7" />
<rect x="188.6" y="140.7" width="41.0" height="22.05000000000001" fill="#e4e4e4" stroke="#111" stroke-width="0.9" />
<rect x="196.5" y="128.2" width="24.75" height="11" rx="2" fill="#e4e4e4" stroke="#111" stroke-width="0.9"/>
<rect x="195.5" y="139.2" width="26.5" height="27.80000000000001" fill="#e4e4e4" stroke="#111" stroke-width="0.9" />
<rect x="199" y="166.5" width="19.5" height="3.0" fill="#777" stroke="#111" stroke-width="0.5" />
<polygon points="150.4,170.5 191,168 191,184.5 150.4,181.5" fill="#e4e4e4" stroke="#111" stroke-width="0.9"/>
<polygon points="267.4,170.5 226.8,168 226.8,184.5 267.4,181.5" fill="#e4e4e4" stroke="#111" stroke-width="0.9"/>
<path d="M191.0,175 Q193.0,172.3 195.0,174.3 Q197.0,171.8 199.0,174 Q201.0,172.3 202.2,175 L202.2,180 Q201.0,183.5 199.0,182 Q197.0,184.2 195.0,182.2 Q193.0,184 191.0,182 Z" fill="#e4e4e4" stroke="#333" stroke-width="0.8"/>
<path d="M226.60000000000002,175 Q224.60000000000002,172.3 222.60000000000002,174.3 Q220.60000000000002,171.8 218.60000000000002,174 Q216.60000000000002,172.3 215.40000000000003,175 L215.40000000000003,180 Q216.60000000000002,183.5 218.60000000000002,182 Q220.60000000000002,184.2 222.60000000000002,182.2 Q224.60000000000002,184 226.60000000000002,182 Z" fill="#e4e4e4" stroke="#333" stroke-width="0.8"/>
<rect x="203" y="170.6" width="11" height="2.700000000000017" fill="#e4e4e4" stroke="#111" stroke-width="0.8" />
<rect x="202.2" y="173.3" width="13.200000000000017" height="6.299999999999983" fill="#e4e4e4" stroke="#111" stroke-width="0.9" />
<line x1="206.5" y1="173.3" x2="206.5" y2="179.6" stroke="#111" stroke-width="1.1" />
<line x1="211" y1="173.3" x2="211" y2="179.6" stroke="#111" stroke-width="1.1" />
</g>
<rect x="536.5" y="538" width="4.899999999999977" height="19" fill="#fff" stroke="#111" stroke-width="0.9" />
<rect x="627.5" y="538" width="5.899999999999977" height="19" fill="#fff" stroke="#111" stroke-width="0.9" />
<line x1="539" y1="538" x2="539" y2="557" stroke="#666" stroke-width="0.6" />
<line x1="630.5" y1="538" x2="630.5" y2="557" stroke="#666" stroke-width="0.6" />
<polygon points="496,576.6 536.3,576.6 536.3,556.5 544.6,556.5 544.6,585 496,585" fill="#333" stroke="#111" stroke-width="1.3"/>
<polygon points="496,576.6 536.3,576.6 536.3,556.5 544.6,556.5 544.6,585 496,585" fill="url(#speck)"/>
<polygon points="624.2,556.5 632.5,556.5 632.5,576.6 673,576.6 673,585 624.2,585" fill="#333" stroke="#111" stroke-width="1.3"/>
<polygon points="624.2,556.5 632.5,556.5 632.5,576.6 673,576.6 673,585 624.2,585" fill="url(#speck)"/>
<line x1="585" y1="471" x2="585" y2="572" stroke="#111" stroke-width="0.9" stroke-dasharray="5,2,1,2"/>
<circle cx="630.4" cy="553.7" r="10.6" fill="none" stroke="#111" stroke-width="0.9"/>
<text x="647.5" y="562" font-size="12" text-anchor="middle" font-family="Liberation Serif, serif" >I</text>
<defs><clipPath id="dc"><circle cx="724.4" cy="606.9" r="29.8"/></clipPath></defs>
<circle cx="724.4" cy="606.9" r="29.8" fill="#e4e4e4" stroke="#111" stroke-width="1"/>
<g clip-path="url(#dc)">
<line x1="712.5" y1="576" x2="712.5" y2="587.5" stroke="#111" stroke-width="0.9" />
<line x1="730.5" y1="576" x2="730.5" y2="587.5" stroke="#111" stroke-width="0.9" />
<rect x="712.5" y="587.5" width="15.5" height="17.5" fill="#f0f0f0" stroke="#111" stroke-width="1" />
<line x1="713" y1="587.5" x2="730" y2="587.5" stroke="#111" stroke-width="0.8" />
<polygon points="713,587.5 716.0,586.3 716.0,588.7" fill="#111"/>
<polygon points="730,587.5 727.0,588.7 727.0,586.3" fill="#111"/>
<text x="721" y="586" font-size="8.5" text-anchor="middle" font-family="Liberation Serif, serif" fill="#444">L</text>
<rect x="730.5" y="578" width="2.5" height="48" fill="#fff" stroke="#111" stroke-width="0.8" />
<rect x="728" y="590" width="2.5" height="14" fill="#fff" stroke="#111" stroke-width="0.7" />
<rect x="702.5" y="607" width="28.0" height="7" fill="#cfcfcf" stroke="#111" stroke-width="0.9" />
<path d="M703,613.5 L706.5,607.5 L710,613.5 L713.5,607.5 L717,613.5 L720.5,607.5 L724,613.5 L727.5,607.5 L730,612" fill="none" stroke="#111" stroke-width="1.1"/>
<line x1="702.5" y1="614.8" x2="730.5" y2="614.8" stroke="#777" stroke-width="1.4" />
<line x1="702.5" y1="607" x2="702.5" y2="640" stroke="#111" stroke-width="1" />
<line x1="728.5" y1="614" x2="728.5" y2="640" stroke="#111" stroke-width="1" />
</g>
<line x1="755" y1="565.6" x2="764" y2="565.6" stroke="#111" stroke-width="1" />
<line x1="755" y1="565.6" x2="733.5" y2="583" stroke="#111" stroke-width="0.8" />
<line x1="755" y1="576.5" x2="764" y2="576.5" stroke="#111" stroke-width="1" />
<line x1="755" y1="576.5" x2="731" y2="597" stroke="#111" stroke-width="0.8" />
<line x1="755" y1="590.5" x2="764" y2="590.5" stroke="#111" stroke-width="1" />
<line x1="755" y1="590.5" x2="731" y2="609" stroke="#111" stroke-width="0.8" />
<line x1="755" y1="600" x2="764" y2="600" stroke="#111" stroke-width="1" />
<line x1="755" y1="600" x2="720" y2="623" stroke="#111" stroke-width="0.8" />
<polygon points="720,623 723.3613722687932,618.8840339565799 725.2135569883322,621.971008489145" fill="#111"/>
<text x="762" y="562.5" font-size="12" text-anchor="middle" font-family="Liberation Serif, serif" >1</text>
<text x="762" y="575" font-size="12" text-anchor="middle" font-family="Liberation Serif, serif" >2</text>
<text x="762" y="589" font-size="12" text-anchor="middle" font-family="Liberation Serif, serif" >3</text>
<text x="762" y="600" font-size="12" text-anchor="middle" font-family="Liberation Serif, serif" >4</text>
<text x="729.3" y="575.8" font-size="11" text-anchor="middle" font-family="Liberation Serif, serif" >I</text>
<rect x="536.1" y="624.75" width="93.89999999999998" height="95.64999999999998" fill="#e4e4e4" stroke="#777" stroke-width="1" />
<rect x="543.6" y="632.2" width="79.64999999999998" height="81.39999999999998" fill="#fff" stroke="#777" stroke-width="1" />
<line x1="536.1" y1="624.75" x2="630" y2="624.75" stroke="#111" stroke-width="1.2" />
<line x1="536.1" y1="624.75" x2="536.1" y2="720.4" stroke="#555" stroke-width="1" />
<line x1="536.1" y1="616.9" x2="630" y2="617.4" stroke="#111" stroke-width="0.8" />
<polygon points="536.1,616.9 540.1079304011417,615.4213202173547 540.0919561867091,618.4212776877988" fill="#111"/>
<polygon points="630,617.4 625.9920695988583,618.8786797826452 626.0080438132909,615.8787223122011" fill="#111"/>
<line x1="536.1" y1="613" x2="536.1" y2="624.75" stroke="#111" stroke-width="0.8" />
<line x1="630" y1="613" x2="630" y2="624.75" stroke="#111" stroke-width="0.8" />
<text x="583" y="615" font-size="11" text-anchor="middle" font-family="Liberation Serif, serif" fill="#444">F</text>
<line x1="521.25" y1="624.75" x2="521.25" y2="720.4" stroke="#111" stroke-width="0.8" />
<polygon points="521.25,624.75 522.75,628.75 519.75,628.75" fill="#111"/>
<polygon points="521.25,720.4 519.75,716.4 522.75,716.4" fill="#111"/>
<line x1="518" y1="624.75" x2="536.1" y2="624.75" stroke="#111" stroke-width="1" />
<line x1="518" y1="720.4" x2="536.1" y2="720.4" stroke="#111" stroke-width="1" />
<text x="515.3" y="676" font-size="11.5" text-anchor="middle" font-family="Liberation Serif, serif" fill="#444">F</text>
<line x1="650.4" y1="632.2" x2="650.4" y2="713.6" stroke="#111" stroke-width="0.8" />
<polygon points="650.4,632.2 651.9,636.2 648.9,636.2" fill="#111"/>
<polygon points="650.4,713.6 648.9,709.6 651.9,709.6" fill="#111"/>
<line x1="623.25" y1="632.2" x2="653" y2="632.2" stroke="#111" stroke-width="1" />
<line x1="623.25" y1="713.6" x2="653" y2="713.6" stroke="#111" stroke-width="1" />
<text x="644.2" y="678.3" font-size="11" text-anchor="middle" font-family="Liberation Serif, serif" fill="#444">G</text>
<line x1="543.6" y1="733.1" x2="623.25" y2="733.6" stroke="#111" stroke-width="0.8" />
<polygon points="543.6,733.1 547.6093371995555,731.6251389149279 547.5905051788907,734.6250798068452" fill="#111"/>
<polygon points="623.25,733.6 619.2406628004445,735.0748610850721 619.2594948211093,732.0749201931549" fill="#111"/>
<line x1="543.6" y1="713.6" x2="543.6" y2="735" stroke="#111" stroke-width="0.8" />
<line x1="623.25" y1="713.6" x2="623.25" y2="735" stroke="#111" stroke-width="0.8" />
<text x="583" y="731.5" font-size="11" text-anchor="middle" font-family="Liberation Serif, serif" fill="#444">G</text>
<g class="ns" transform="translate(124.41449999999999 593.188) scale(0.681 0.678)">
<rect x="98.6" y="84" width="223.4" height="47.69999999999999" fill="#e4e4e4"/>
<rect x="103.3" y="84" width="3.6000000000000085" height="47.7" fill="#9a9a9a"/>
<rect x="310.70000000000005" y="84" width="3.6000000000000085" height="47.7" fill="#9a9a9a"/>
<rect x="125.2" y="84" width="3.799999999999997" height="47.7" fill="#9a9a9a"/>
<rect x="288.6" y="84" width="3.799999999999997" height="47.7" fill="#9a9a9a"/>
<rect x="164.7" y="84" width="3.3000000000000114" height="47.7" fill="#9a9a9a"/>
<rect x="249.60000000000002" y="84" width="3.3000000000000114" height="47.7" fill="#9a9a9a"/>
<rect x="201.2" y="84" width="3.8000000000000114" height="47.7" fill="#9a9a9a"/>
<rect x="212.60000000000002" y="84" width="3.8000000000000114" height="47.7" fill="#9a9a9a"/>
<path d="M98.6,84.4 Q116.0,80.5 133.4,84.4 Q152.325,80.5 171.25,84.4 Q189.375,80.5 207.5,84.4 Q226.85,80.5 246.2,84.4 Q265.0,80.5 283.8,84.4 Q301.6,80.5 319.4,84.4 " fill="none" stroke="#111" stroke-width="0.8"/>
<rect x="133.4" y="79.5" width="3.1999999999999886" height="52.19999999999999" fill="#fff" stroke="#111" stroke-width="0.9"/>
<rect x="281.0" y="79.5" width="3.2000000000000455" height="52.19999999999999" fill="#fff" stroke="#111" stroke-width="0.9"/>
<rect x="142.3" y="84" width="2.3999999999999773" height="47.69999999999999" fill="#fff" stroke="#111" stroke-width="0.9"/>
<rect x="272.90000000000003" y="84" width="2.3999999999999773" height="47.69999999999999" fill="#fff" stroke="#111" stroke-width="0.9"/>
<rect x="163" y="84" width="1.6999999999999886" height="47.69999999999999" fill="#fff" stroke="#111" stroke-width="0.9"/>
<rect x="252.90000000000003" y="84" width="1.6999999999999886" height="47.69999999999999" fill="#fff" stroke="#111" stroke-width="0.9"/>
<rect x="171.25" y="79.5" width="3.4499999999999886" height="52.19999999999999" fill="#fff" stroke="#111" stroke-width="0.9"/>
<rect x="242.90000000000003" y="79.5" width="3.4499999999999886" height="52.19999999999999" fill="#fff" stroke="#111" stroke-width="0.9"/>
<rect x="179.8" y="84" width="2.6999999999999886" height="47.69999999999999" fill="#fff" stroke="#111" stroke-width="0.9"/>
<rect x="235.10000000000002" y="84" width="2.6999999999999886" height="47.69999999999999" fill="#fff" stroke="#111" stroke-width="0.9"/>
<rect x="207.4" y="79.5" width="3" height="52" fill="#fff" stroke="#111" stroke-width="0.9"/>
<rect x="95.5" y="79" width="3.0999999999999943" height="59.75" fill="#fff" stroke="#111" stroke-width="0.9" />
<rect x="98.6" y="131.7" width="220.79999999999998" height="7.050000000000011" fill="#e4e4e4" stroke="#111" stroke-width="0.9" />
<rect x="319.4" y="79" width="2.8000000000000114" height="59.75" fill="#fff" stroke="#111" stroke-width="0.9" />
</g>
<line x1="183.4" y1="687.3" x2="213.3" y2="687.3" stroke="#111" stroke-width="1.1" />
<line x1="318.4" y1="687.3" x2="350" y2="687.3" stroke="#111" stroke-width="1.1" />
<rect x="213.6" y="713" width="104.20000000000002" height="14.5" fill="#e4e4e4" stroke="#111" stroke-width="1" />
<g class="ns" transform="translate(125.17759999999998 593.1948) scale(0.673 0.673)">
<path d="M129.8,132 Q208.8,92 288,132 Z" fill="#e4e4e4" stroke="#111" stroke-width="0.9"/>
<rect x="131.25" y="132.4" width="154.75" height="48.599999999999994" fill="#e4e4e4" stroke="#111" stroke-width="1" />
<rect x="131.25" y="132.4" width="7.75" height="48.599999999999994" fill="#e4e4e4" stroke="#111" stroke-width="0.9" />
<rect x="277.5" y="132.4" width="8.5" height="48.599999999999994" fill="#e4e4e4" stroke="#111" stroke-width="0.9" />
<line x1="137" y1="134" x2="137" y2="179" stroke="#777" stroke-width="1.4" />
<line x1="279.5" y1="134" x2="279.5" y2="179" stroke="#777" stroke-width="1.4" />
<line x1="139" y1="143.6" x2="277.5" y2="143.6" stroke="#111" stroke-width="0.9" />
<line x1="139" y1="158.25" x2="277.5" y2="158.25" stroke="#111" stroke-width="0.9" />
<line x1="139" y1="166" x2="277.5" y2="166" stroke="#111" stroke-width="0.9" />
<rect x="131.25" y="178.2" width="154.75" height="2.8000000000000114" fill="#d8d8d8" stroke="#111" stroke-width="0.7" />
<rect x="188.6" y="140.7" width="41.0" height="22.05000000000001" fill="#e4e4e4" stroke="#111" stroke-width="0.9" />
<rect x="196.5" y="128.2" width="24.75" height="11" rx="2" fill="#e4e4e4" stroke="#111" stroke-width="0.9"/>
<rect x="195.5" y="139.2" width="26.5" height="26.100000000000023" fill="#d4d4d4" stroke="#111" stroke-width="0.9" />
<line x1="197.3" y1="140" x2="197.3" y2="164.5" stroke="#333" stroke-width="0.8" />
<line x1="200.10000000000002" y1="140" x2="200.10000000000002" y2="164.5" stroke="#333" stroke-width="0.8" />
<line x1="202.9" y1="140" x2="202.9" y2="164.5" stroke="#333" stroke-width="0.8" />
<line x1="205.70000000000002" y1="140" x2="205.70000000000002" y2="164.5" stroke="#333" stroke-width="0.8" />
<line x1="208.5" y1="140" x2="208.5" y2="164.5" stroke="#333" stroke-width="0.8" />
<line x1="211.3" y1="140" x2="211.3" y2="164.5" stroke="#333" stroke-width="0.8" />
<line x1="214.10000000000002" y1="140" x2="214.10000000000002" y2="164.5" stroke="#333" stroke-width="0.8" />
<line x1="216.9" y1="140" x2="216.9" y2="164.5" stroke="#333" stroke-width="0.8" />
<line x1="219.70000000000002" y1="140" x2="219.70000000000002" y2="164.5" stroke="#333" stroke-width="0.8" />
<rect x="205.5" y="149" width="6.5" height="6" fill="#e4e4e4" stroke="#111" stroke-width="0.7" />
<line x1="198" y1="168" x2="219.5" y2="168" stroke="#111" stroke-width="1.6" />
<polygon points="150.4,170.5 191,168 191,184.5 150.4,181.5" fill="#e4e4e4" stroke="#111" stroke-width="0.9"/>
<polygon points="267.4,170.5 226.8,168 226.8,184.5 267.4,181.5" fill="#e4e4e4" stroke="#111" stroke-width="0.9"/>
<path d="M191.0,175 Q193.0,172.3 195.0,174.3 Q197.0,171.8 199.0,174 Q201.0,172.3 202.2,175 L202.2,180 Q201.0,183.5 199.0,182 Q197.0,184.2 195.0,182.2 Q193.0,184 191.0,182 Z" fill="#e4e4e4" stroke="#333" stroke-width="0.8"/>
<path d="M226.60000000000002,175 Q224.60000000000002,172.3 222.60000000000002,174.3 Q220.60000000000002,171.8 218.60000000000002,174 Q216.60000000000002,172.3 215.40000000000003,175 L215.40000000000003,180 Q216.60000000000002,183.5 218.60000000000002,182 Q220.60000000000002,184.2 222.60000000000002,182.2 Q224.60000000000002,184 226.60000000000002,182 Z" fill="#e4e4e4" stroke="#333" stroke-width="0.8"/>
<rect x="203" y="170.6" width="11" height="2.700000000000017" fill="#e4e4e4" stroke="#111" stroke-width="0.8" />
<rect x="202.2" y="173.3" width="13.200000000000017" height="6.299999999999983" fill="#e4e4e4" stroke="#111" stroke-width="0.9" />
<line x1="206.5" y1="173.3" x2="206.5" y2="179.6" stroke="#111" stroke-width="1.1" />
<line x1="211" y1="173.3" x2="211" y2="179.6" stroke="#111" stroke-width="1.1" />
</g>
<rect x="214" y="716" width="5" height="6.5" fill="#e4e4e4" stroke="#111" stroke-width="0.8" />
<rect x="312.5" y="716" width="5.0" height="6.5" fill="#e4e4e4" stroke="#111" stroke-width="0.8" />
<line x1="266.2" y1="727" x2="266.2" y2="732" stroke="#111" stroke-width="0.9" />
<line x1="266.2" y1="643" x2="266.2" y2="727" stroke="#111" stroke-width="0.8" stroke-dasharray="4,2"/>
<text x="85" y="721" font-size="10.5" text-anchor="start" font-family="Liberation Sans, sans-serif" letter-spacing="-0.45" fill="#333">膨胀螺钉(混泥土泛水)</text>
<line x1="85" y1="725.4" x2="191.6" y2="725.4" stroke="#111" stroke-width="0.9" />
<line x1="191.6" y1="725.4" x2="196.4" y2="734.7" stroke="#111" stroke-width="0.9" />
<text x="91.5" y="740" font-size="10.5" text-anchor="start" font-family="Liberation Sans, sans-serif" letter-spacing="-0.5" fill="#333">自攻螺钉(钢制泛水)</text>
<rect x="188.6" y="734.1" width="13.5" height="3" fill="#000"/>
<circle cx="190.79999999999998" cy="735.8000000000001" r="0.6" fill="#fff"/>
<circle cx="193.2" cy="735.8000000000001" r="0.6" fill="#fff"/>
<circle cx="195.6" cy="735.8000000000001" r="0.6" fill="#fff"/>
<circle cx="198.0" cy="735.8000000000001" r="0.6" fill="#fff"/>
<circle cx="200.4" cy="735.8000000000001" r="0.6" fill="#fff"/>
<line x1="188.6" y1="729.8000000000001" x2="188.6" y2="741.4" stroke="#111" stroke-width="1.6" />
<path d="M188.6,730.8000000000001 Q184.4,735.6 188.6,740.4" fill="none" stroke="#444" stroke-width="0.8"/>
<rect x="329.1" y="726.3" width="13.5" height="3" fill="#000"/>
<circle cx="340.40000000000003" cy="728.0" r="0.6" fill="#fff"/>
<circle cx="338.0" cy="728.0" r="0.6" fill="#fff"/>
<circle cx="335.6" cy="728.0" r="0.6" fill="#fff"/>
<circle cx="333.20000000000005" cy="728.0" r="0.6" fill="#fff"/>
<circle cx="330.8" cy="728.0" r="0.6" fill="#fff"/>
<line x1="342.6" y1="722.0" x2="342.6" y2="733.5999999999999" stroke="#111" stroke-width="1.6" />
<path d="M342.6,723.0 Q346.8,727.8 342.6,732.5999999999999" fill="none" stroke="#444" stroke-width="0.8"/>
<rect x="212" y="751.3" width="109" height="3.5" fill="#e4e4e4" stroke="#111" stroke-width="0.8" />
<line x1="216" y1="751.3" x2="216" y2="754.8" stroke="#111" stroke-width="0.7" />
<line x1="219" y1="751.3" x2="219" y2="754.8" stroke="#111" stroke-width="0.7" />
<text x="315.5" y="741" font-size="10.5" text-anchor="start" font-family="Liberation Sans, sans-serif" letter-spacing="-0.4" fill="#333">橡胶减振器(它方提供)</text>
<line x1="315" y1="743.3" x2="412.5" y2="743.3" stroke="#111" stroke-width="0.9" />
<line x1="315" y1="743.3" x2="298.5" y2="751" stroke="#111" stroke-width="0.9" />
<text x="332" y="756" font-size="11.5" text-anchor="start" font-family="Liberation Sans, sans-serif" letter-spacing="-0.6" fill="#333">厚度在于5mm</text>
<polygon points="162,802.5 212.7,810 212.7,780.3 319.3,780.3 319.3,826.6 377.1,835.1 377.1,847.9 162,814" fill="#e4e4e4"/>
<line x1="201.4" y1="780.3" x2="319.4" y2="780.3" stroke="#111" stroke-width="1.2" />
<line x1="162" y1="802.5" x2="212.7" y2="810" stroke="#111" stroke-width="0.9" />
<line x1="212.7" y1="810" x2="212.7" y2="780.3" stroke="#111" stroke-width="0.9" />
<line x1="218.4" y1="780.3" x2="218.4" y2="820" stroke="#777" stroke-width="1.2" />
<line x1="162" y1="814" x2="313.4" y2="838.3" stroke="#111" stroke-width="0.9" />
<line x1="313.4" y1="780.3" x2="313.4" y2="838.3" stroke="#111" stroke-width="1.3" />
<line x1="319.3" y1="780.3" x2="319.3" y2="826.6" stroke="#111" stroke-width="0.9" />
<line x1="319.3" y1="826.6" x2="377.1" y2="835.1" stroke="#111" stroke-width="0.9" />
<line x1="313.4" y1="838.3" x2="377.1" y2="847.9" stroke="#111" stroke-width="0.9" />
<line x1="202.5" y1="781" x2="202.5" y2="808" stroke="#111" stroke-width="0.8" />
<polygon points="202.5,781 204.1,785.0 200.9,785.0" fill="#111"/>
<polygon points="202.5,808 200.9,804.0 204.1,804.0" fill="#111"/>
<text x="196" y="795" font-size="10" text-anchor="middle" font-family="Liberation Serif, serif" transform="rotate(-90 196 795)" >H</text>
<text x="95.2" y="784.5" font-size="10.5" text-anchor="start" font-family="Liberation Serif, serif" letter-spacing="0.8">屋顶泛水 H&gt;350mm</text>
<line x1="305" y1="795.2" x2="313" y2="795.2" stroke="#111" stroke-width="0.8" />
<polygon points="313,795.2 309.0,796.7 309.0,793.7" fill="#111"/>
<line x1="319.3" y1="795.2" x2="423.9" y2="795.2" stroke="#111" stroke-width="1" />
<polygon points="319.5,795.2 323.5,793.7 323.5,796.7" fill="#111"/>
<text x="324" y="793" font-size="11.5" text-anchor="start" font-family="Liberation Serif, serif" letter-spacing="0.3">70-80mm混泥土泛水</text>
<text x="324" y="808" font-size="11.5" text-anchor="start" font-family="Liberation Serif, serif" letter-spacing="0.27">30-45mm钢制泛水</text>
</svg></body></html>
